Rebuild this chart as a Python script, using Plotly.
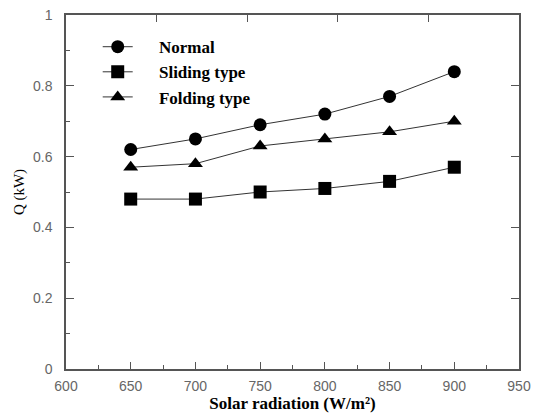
import plotly.graph_objects as go

radiation = [650, 700, 750, 800, 850, 900]
normal = [0.62, 0.65, 0.69, 0.72, 0.77, 0.84]
sliding = [0.48, 0.48, 0.50, 0.51, 0.53, 0.57]
folding = [0.57, 0.58, 0.63, 0.65, 0.67, 0.70]

x_ticks = [600, 650, 700, 750, 800, 850, 900, 950]
y_ticks = [0, 0.2, 0.4, 0.6, 0.8, 1]
y_labels = ["0", "0.2", "0.4", "0.6", "0.8", "1"]
names = ["Normal", "Sliding type", "Folding type"]

fig = go.Figure()
series = [(names[0], normal, "circle"), (names[1], sliding, "square"), (names[2], folding, "triangle-up")]
NB = "\u00a0"
for name, vals, sym in series:
    fig.add_trace(go.Scatter(
        x=radiation, y=vals, name=NB * 5 + "<b>" + name + "</b>", mode="lines+markers",
        line=dict(color="#333333", width=1),
        marker=dict(symbol=sym, size=13, color="black", line=dict(width=0)),
    ))

# invisible trace for the frame (top/right) axes
fig.add_trace(go.Scatter(x=[0], y=[0], xaxis="x2", yaxis="y2", mode="markers",
                         marker=dict(opacity=0), showlegend=False, hoverinfo="skip"))

axis_col = "#555555"
tick_font = dict(family="Liberation Sans", size=14, color="#666666")
fig.update_layout(
    width=535, height=414,
    margin=dict(l=66, r=16, t=15, b=45),
    paper_bgcolor="white", plot_bgcolor="white",
    xaxis=dict(range=[600, 950], tickvals=x_ticks, ticks="inside", ticklen=7,
               tickcolor=axis_col, showgrid=False, zeroline=False, automargin=False,
               showline=True, linecolor=axis_col, linewidth=1.5,
               tickfont=tick_font, ticklabelstandoff=3,
               minor=dict(dtick=25, ticks="inside", ticklen=4, tickcolor=axis_col),
               title=dict(text="<b>Solar radiation (W/m²)</b>", standoff=1,
                          font=dict(family="Liberation Serif", size=17, color="black"))),
    yaxis=dict(range=[0, 1], tickvals=y_ticks, ticktext=y_labels, ticks="inside", ticklen=8,
               tickcolor=axis_col, showgrid=False, zeroline=False, automargin=False,
               showline=True, linecolor=axis_col, linewidth=1.5,
               tickfont=tick_font, ticklabelstandoff=9,
               minor=dict(dtick=0.1, ticks="inside", ticklen=4, tickcolor=axis_col),
               title=dict(text="Q (kW)", standoff=5,
                          font=dict(family="Liberation Serif", size=15, color="black"))),
    xaxis2=dict(overlaying="x", side="top", range=[0, 5], tickvals=[1, 2, 3, 4],
                ticks="inside", ticklen=7, tickcolor=axis_col, showticklabels=False,
                showgrid=False, zeroline=False, showline=True, linecolor=axis_col,
                linewidth=1.5, anchor="y2", automargin=False),
    yaxis2=dict(overlaying="y", side="right", range=[0, 1], tickvals=[0.2, 0.4, 0.6, 0.8],
                ticks="inside", ticklen=8, tickcolor=axis_col, showticklabels=False,
                showgrid=False, zeroline=False, showline=True, linecolor=axis_col,
                linewidth=1.5, anchor="x2", automargin=False),
    legend=dict(x=0.07, y=0.96, xanchor="left", yanchor="top",
                bgcolor="rgba(0,0,0,0)", tracegroupgap=0,
                font=dict(family="Liberation Serif", size=17, color="black"),
                itemwidth=30),
    showlegend=True,
)

fig.write_html("out.html", config={"displayModeBar": False},
               post_script="document.body.style.margin='0';")
